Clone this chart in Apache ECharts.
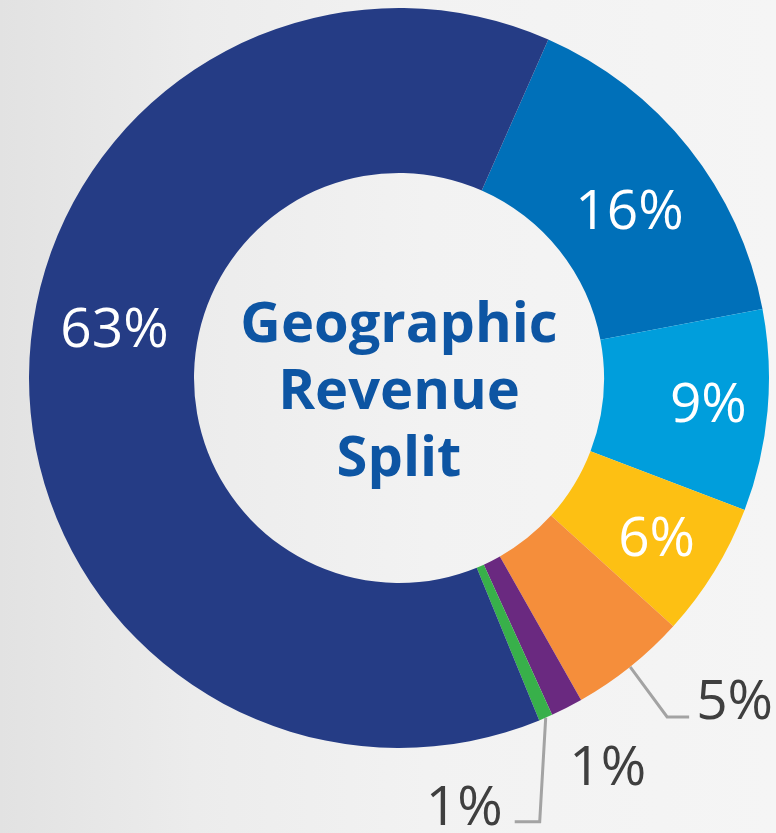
<!DOCTYPE html>
<html><head><meta charset="utf-8">
<script src="https://cdn.jsdelivr.net/npm/echarts@6/dist/echarts.min.js"></script>
<style>
html,body{margin:0;padding:0;}
#c{width:776px;height:833px;background:linear-gradient(to right,#e2e2e2 0%,#ececec 25%,#f2f2f2 55%,#f5f5f5 100%);}
</style></head><body><div id="c"></div>
<script>
// ---- data ----
const categories = ['Region 1', 'Region 2', 'Region 3', 'Region 4', 'Region 5', 'Region 6', 'Region 7'];
const shares = [15.4, 8.8, 5.9, 5.1, 1.4, 0.6, 62.8];
const shareLabels = ['16%', '9%', '6%', '5%', '1%', '1%', '63%'];
const centerTitle = ['Geographic', 'Revenue', 'Split'];

// ---- styles ----
const colors = ['#0070b9', '#009edc', '#fdc013', '#f58e3b', '#6a2980', '#38b04a', '#253c85'];
const outside = [false, false, false, true, true, true, false];
const FONT = '"Open Sans", "Noto Sans", sans-serif';

const chart = echarts.init(document.getElementById('c'), null, { renderer: 'canvas' });

const data = categories.map((name, i) => ({
  name: name,
  value: shares[i],
  itemStyle: { color: colors[i] },
  label: outside[i]
    ? { position: 'outside', color: '#3f3f3f' }
    : { position: 'inside', color: '#ffffff' },
  labelLine: outside[i]
    ? { show: true, lineStyle: { color: '#a3a3a3', width: 3, opacity: i === 4 ? 0 : 1 } }
    : { show: false }
}));

chart.setOption({
  backgroundColor: 'transparent',
  animation: false,
  graphic: [{
    type: 'text',
    x: 399,
    y: 393,
    style: {
      text: centerTitle.join('\n'),
      fontFamily: FONT,
      fontWeight: 'bold',
      fontSize: 56,
      lineHeight: 67,
      fill: '#0d55a3',
      align: 'center',
      verticalAlign: 'middle',
      textAlign: 'center',
      textVerticalAlign: 'middle'
    }
  }],
  series: [{
    type: 'pie',
    radius: [205, 370],
    center: [399, 378],
    startAngle: 66.2,
    clockwise: true,
    avoidLabelOverlap: false,
    silent: true,
    itemStyle: { borderWidth: 0 },
    emphasis: { disabled: true },
    label: {
      show: true,
      fontFamily: FONT,
      fontSize: 55,
      formatter: p => shareLabels[p.dataIndex]
    },
    labelLine: { length: 60, length2: 22 },
    labelLayout: function (p) {
      const i = p.dataIndex;
      const a = p.labelLinePoints && p.labelLinePoints[0];
      if (i === 0) return { dx: 3, dy: 16 };
      if (i === 1) return { dx: 20, dy: 3 };
      if (i === 2) return { dx: 10, dy: 10 };
      if (i === 6) return { dx: 6, dy: -43 };
      if (!a) return {};
      if (i === 3) {
        return {
          x: a[0] + 66, y: a[1] + 36, align: 'left', verticalAlign: 'middle',
          labelLinePoints: [[a[0], a[1]], [a[0] + 37, a[1] + 50], [a[0] + 59, a[1] + 50]]
        };
      }
      if (i === 4) {
        return { x: a[0] + 41, y: a[1] + 62, align: 'center', verticalAlign: 'middle' };
      }
      if (i === 5) {
        return {
          x: a[0] - 43, y: a[1] + 92, align: 'right', verticalAlign: 'middle',
          labelLinePoints: [[a[0], a[1]], [a[0] - 6, a[1] + 104], [a[0] - 31, a[1] + 104]]
        };
      }
      return {};
    },
    data: data
  }]
});
</script>
</body></html>
